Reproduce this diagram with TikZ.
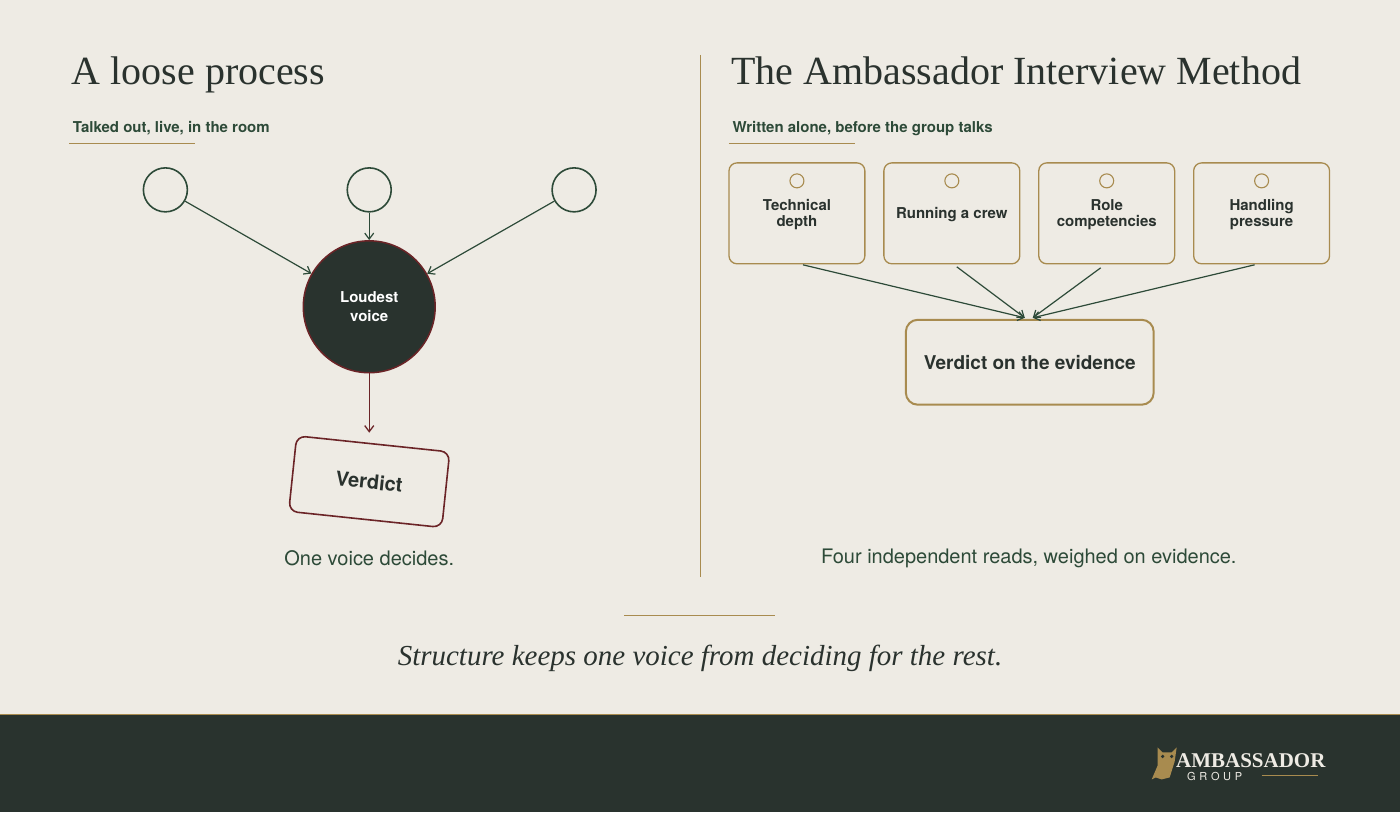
\documentclass[tikz,border=0pt]{standalone}
\usepackage{fontspec}
\setmainfont{TeX Gyre Heros}
\newfontfamily\serifF{Liberation Serif}
\usetikzlibrary{arrows.meta}
\definecolor{bg}{HTML}{EEEBE4}
\definecolor{dk}{HTML}{29332E}
\definecolor{gold}{HTML}{A88B4F}
\definecolor{gt}{HTML}{2D4A38}
\definecolor{mr}{HTML}{6B2427}
\definecolor{tx}{HTML}{2A322E}
\begin{document}
\begin{tikzpicture}[x=1pt,y=-1pt,
  small/.style={circle,draw=gt,line width=1.6pt,minimum size=44pt,inner sep=0pt},
  garrow/.style={draw=gt,line width=1.2pt,-{Straight Barb[length=6pt,width=9pt]}},
  card/.style={draw=gold,line width=1.3pt,rounded corners=8pt,minimum width=136pt,minimum height=101pt,align=center,font=\fontsize{15}{16}\selectfont\bfseries,text=tx},
  dot/.style={circle,draw=gold,line width=1.1pt,minimum size=14pt,inner sep=0pt},
  title/.style={anchor=base west,font=\serifF\fontsize{40}{40}\selectfont,text=tx},
  sub/.style={anchor=base west,font=\fontsize{15}{16}\selectfont\bfseries,text=gt},
  captxt/.style={anchor=base,font=\fontsize{20}{20}\selectfont,text=gt}]
\fill[bg] (0,0) rectangle (1400,813);
\fill[dk] (0,715) rectangle (1400,813);
\draw[gold,line width=1pt] (0,715) -- (1400,715);
% left
\node[title] (t1) at (68,85) {A loose process};
\node[sub] (s1) at (69,133) {Talked out, live, in the room};
\draw[gold,line width=1pt] (69,144) -- (195,144);
\node[small] (c1) at (165,190) {};
\node[small] (c2) at (369,190) {};
\node[small] (c3) at (574,190) {};
\node[circle,fill=dk,draw=mr,line width=1.5pt,minimum size=132pt,align=center,text=white,font=\fontsize{15}{19}\selectfont\bfseries] (lv) at (369,307) {Loudest\\voice};
\draw[garrow] (c1) -- (lv);
\draw[garrow] (c2) -- (lv);
\draw[garrow] (c3) -- (lv);
\node[draw=mr,line width=1.6pt,rounded corners=9pt,minimum width=154pt,minimum height=76pt,rotate=-6,font=\fontsize{20}{20}\selectfont\bfseries,text=tx] (vd) at (369,482) {Verdict};
\draw[draw=mr,line width=1.3pt,-{Straight Barb[length=6pt,width=9pt]}] (lv) -- (369,433);
\node[captxt] (cp1) at (369,566) {One voice decides.};
\draw[gold,line width=1pt] (700,55) -- (700,577);
% right
\node[title] (t2) at (728,85) {The Ambassador Interview Method};
\node[sub] (s2) at (729,133) {Written alone, before the group talks};
\draw[gold,line width=1pt] (729,144) -- (855,144);
\foreach \i/\x/\t in {1/797/{Technical\\depth},2/952/{Running a crew},3/1107/{Role\\competencies},4/1262/{Handling\\pressure}}{
  \node[card] (b\i) at (\x,213.5) {\\[-2pt]\t};
  \node[dot] (d\i) at (\x,181) {};
}
\node[draw=gold,line width=2pt,rounded corners=12pt,minimum width=248pt,minimum height=85pt,font=\fontsize{19}{19}\selectfont\bfseries,text=tx] (ve) at (1030,362.5) {Verdict on the evidence};
\coordinate (e1) at (1025,318);
\coordinate (e2) at (1033,318);
\draw[garrow] (803,265) -- (e1);
\draw[garrow] (957,267) -- (e1);
\draw[garrow] (1101,268) -- (e2);
\draw[garrow] (1255,265) -- (e2);
\node[captxt] (cp2) at (1029,564) {Four independent reads, weighed on evidence.};
\draw[gold,line width=1pt] (624,616) -- (775,616);
\node[anchor=base,font=\serifF\itshape\fontsize{29}{29}\selectfont,text=tx] (tag) at (700,666) {Structure keeps one voice from deciding for the rest.};
% logo
\node[anchor=base west,font=\serifF\bfseries\fontsize{21}{21}\selectfont,text=bg] (lg) at (1173,768) {AMBASSADOR};
\node[anchor=base west,font=\fontsize{11}{11}\selectfont,text=bg] (lg2) at (1184,781) {G\,\,R\,\,O\,\,U\,\,P};
\draw[gold,line width=1pt] (1262,776) -- (1318,776);
\fill[gold] (1158,748) -- (1163,753) -- (1172,753) -- (1177,748) -- (1175,762) -- (1170,778) -- (1162,780) -- (1156,778) -- (1152,780) -- (1158,766) -- cycle;
\fill[dk] (1163,757) circle (1.8pt) (1172,757) circle (1.8pt);
\end{tikzpicture}
\end{document}
